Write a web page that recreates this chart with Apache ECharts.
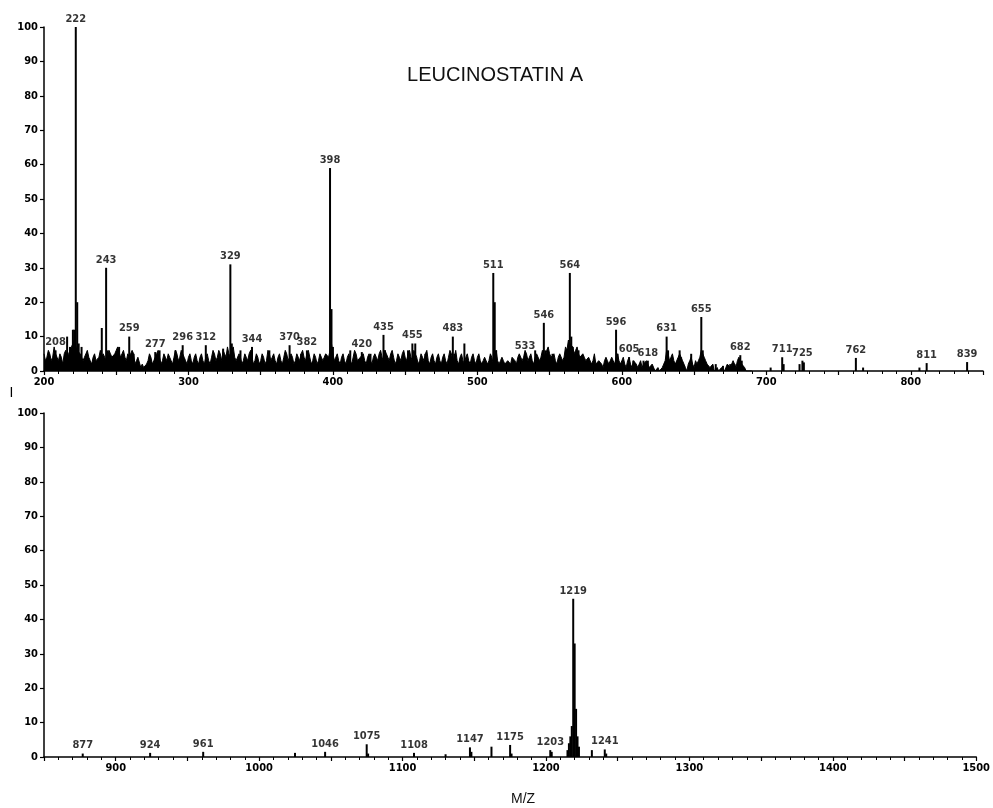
<!DOCTYPE html>
<html>
<head>
<meta charset="utf-8">
<script src="https://cdn.jsdelivr.net/npm/echarts@6/dist/echarts.min.js"></script>
<style>
html,body{margin:0;padding:0;background:#fff;}
#c{width:993px;height:808px;}
</style>
</head>
<body>
<div id="c"></div>
<script>
// ---------- DATA ----------
// Top panel background ("grass") intensities at even m/z 200..690
const noiseEvenStart = 200;
const noiseEven = [
 5,4,5,4,5,3,4,5,4,6,8,7,6,5,4,
 6,3,4,3,4,4,5,4,5,4,6,7,5,4,5,
 4,5,3,4,2,1,3,4,3,5,4,3,4,5,3,
 4,5,4,5,3,4,3,4,3,4,3,4,3,4,5,
 4,5,6,4,5,6,4,3,4,3,4,5,4,3,4,
 3,4,3,5,4,3,4,3,4,5,4,4,3,4,5,
 4,5,4,3,4,3,4,4,5,6,5,4,3,4,3,
 4,3,4,5,3,4,3,4,3,4,4,5,4,6,4,
 5,4,3,4,5,4,5,4,6,4,3,4,5,3,4,
 3,4,3,4,3,4,5,4,3,4,3,4,3,4,3,
 4,3,3,4,3,4,5,3,3,3,2,3,4,3,4,
 5,4,5,4,3,4,5,4,5,6,5,4,3,4,5,
 4,6,8,7,6,5,4,4,3,4,3,2,3,2,3,
 3,2,3,4,3,3,2,3,2,3,2,2,1,2,2,
 1,2,0,0,1,3,5,4,3,2,5,3,1,2,4,
 1,2,4,5,3,2,1,0,1,0,1,1,2,1,2,
 3,3,2,0,0,0
];
// Top panel background intensities at odd m/z 201..689
const noiseOddStart = 201;
const noiseOdd = [
 3,6,3,7,4,5,2,6,5,7,9,6,5,3,5,
 4,2,5,3,6,5,3,6,4,5,7,4,6,3,4,
 6,2,4,1,1,2,5,2,4,6,2,5,3,4,2,
 6,3,6,4,2,5,2,5,2,5,2,5,2,6,3,
 6,3,5,7,4,7,3,5,2,5,3,6,2,5,2,
 5,2,6,3,5,2,5,2,6,3,5,2,5,3,6,
 3,6,2,5,2,5,3,5,4,8,3,5,2,5,2,
 5,2,6,3,4,5,2,5,2,5,3,6,3,5,3,
 6,2,5,3,6,3,6,3,5,2,5,3,6,2,5,
 2,5,2,5,2,6,3,6,2,5,2,5,2,5,2,
 5,2,4,2,5,2,6,2,4,2,3,2,4,2,5,
 3,6,3,5,2,5,3,6,4,7,4,5,2,5,3,
 7,9,8,5,7,4,5,3,4,2,5,2,3,1,4,
 2,4,2,5,2,4,1,4,1,3,1,3,2,3,1,
 2,0,1,0,2,6,3,5,2,4,4,2,0,3,2,
 3,3,6,4,2,1,2,0,0,1,0,2,1,3,1,
 4,2,1,0,0
];
// Top panel discrete peaks
const peakTopMz = [208,216,218,220,221,222,223,224,226,240,243,244,252,259,262,277,280,291,296,312,324,329,330,336,344,356,370,378,382,398,399,400,412,420,426,435,436,452,455,457,464,483,484,491,511,512,513,533,540,546,547,552,564,565,566,570,596,597,605,608,615,618,631,632,640,641,648,655,656,665,670,675,678,682,683,703,711,712,723,725,726,762,767,806,811,839];
const peakTopInt = [6,10,7,12,12,100,20,8,7,12.5,30,6,7,10,5,5.5,6,6,7.5,7.5,6.5,31,8,6,7,6,7.5,5,6,59,18,7,6,5.5,5,10.5,6,6,8,8,5,10,5,8,28.5,20,6,5,6,14,6,5,28.5,10,7,6,12,5,4,3,3,3,10,6,6,4,5,15.7,6,2,1.5,2,2,4.6,3,1,4,2,2,3,2.5,3.8,1,1,2.3,2.6];
const labelTopMz = [208,222,243,259,277,296,312,329,344,370,382,398,420,435,455,483,511,533,546,564,596,605,618,631,655,682,711,725,762,811,839];

// Bottom panel discrete peaks
const peakBotMz = [877,924,961,1025,1046,1075,1076,1108,1130,1147,1148,1162,1175,1176,1203,1204,1215,1216,1217,1218,1219,1220,1221,1222,1223,1232,1241,1242];
const peakBotInt = [1,1.2,1.5,1.2,1.5,3.7,1,1.2,0.8,2.8,1.5,3,3.5,1,2,1.5,2,4,6,9,46,33,14,6,3,2,2.2,1];
const labelBotMz = [877,924,961,1046,1075,1108,1147,1175,1203,1219,1241];

const yTicks = [0,10,20,30,40,50,60,70,80,90,100];
const titleText = 'LEUCINOSTATIN A';
const xName = 'M/Z';

// ---------- BUILD ----------
const FONT = "'Liberation Sans Narrow','DejaVu Sans Condensed',sans-serif";
const noiseData = noiseEven.map((v,i)=>[noiseEvenStart + i*2, v])
  .concat(noiseOdd.map((v,i)=>[noiseOddStart + i*2, v]))
  .sort((a,b)=>a[0]-b[0]);
const zip = (a,b)=>a.map((m,i)=>[m,b[i]]);
const topPeaks = zip(peakTopMz, peakTopInt);
const botPeaks = zip(peakBotMz, peakBotInt);
function labelData(list, mzs, ints){
  return list.map(m=>{
    let h = 0;
    mzs.forEach((x,i)=>{ if (Math.abs(x-m)<=2 && ints[i]>h) h = ints[i]; });
    return {value:[m,h], name:String(m)};
  });
}
const topLabels = labelData(labelTopMz, peakTopMz, peakTopInt);
const botLabels = labelData(labelBotMz, peakBotMz, peakBotInt);

function xAxis(idx, min, max){
  return {
    type:'value', gridIndex:idx, min:min, max:max, interval:50,
    axisLine:{show:true, onZero:false, lineStyle:{color:'#000', width:1.5}},
    axisTick:{show:true, length:4, lineStyle:{color:'#000', width:1.2}},
    minorTick:{show:true, splitNumber:5, length:3, lineStyle:{color:'#000', width:1}},
    splitLine:{show:false},
    axisLabel:{show:true, color:'#000', fontFamily:FONT, fontWeight:'bold', fontSize:11, margin:6,
      showMaxLabel:(max%100===0),
      formatter:v=> (v%100===0 ? String(v) : '')}
  };
}
function yAxis(idx){
  return {
    type:'value', gridIndex:idx, min:0, max:100, interval:10,
    axisLine:{show:true, lineStyle:{color:'#000', width:1.5}},
    axisTick:{show:true, length:4, lineStyle:{color:'#000', width:1.2}},
    splitLine:{show:false},
    axisLabel:{show:true, color:'#000', fontFamily:FONT, fontWeight:'bold', fontSize:11, margin:6,
      formatter:v=> (yTicks.indexOf(v)>=0 ? String(v) : '')}
  };
}
const labelStyle = {show:true, position:'top', distance:2, formatter:p=>p.name,
  color:'#000', fontFamily:FONT, fontWeight:'bold', fontSize:11};

const option = {
  animation:false,
  backgroundColor:'#fff',
  grid:[
    {left:44, top:27, width:939, height:344},
    {left:44, top:413, width:939, height:344}
  ],
  xAxis:[xAxis(0,200,850), xAxis(1,850,1500)],
  yAxis:[yAxis(0), yAxis(1)],
  title:{text:titleText, left:490, top:60, textAlign:'center',
    textStyle:{color:'#111', fontFamily:"'Liberation Sans',Arial,sans-serif", fontWeight:'normal', fontSize:20}},
  graphic:[
    {type:'text', left:511, top:792, style:{text:xName, fill:'#111', font:"14px 'Liberation Sans',Arial,sans-serif"}},
    {type:'text', left:10, top:387, style:{text:'|', fill:'#000', font:"bold 10px 'Liberation Sans',sans-serif"}}
  ],
  series:[
    {type:'line', xAxisIndex:0, yAxisIndex:0, data:noiseData, symbol:'none',
      lineStyle:{color:'#000', width:1}, areaStyle:{color:'#000', opacity:1}, silent:true},
    {type:'bar', xAxisIndex:0, yAxisIndex:0, data:topPeaks, barWidth:2, itemStyle:{color:'#000'}, silent:true},
    {type:'scatter', xAxisIndex:0, yAxisIndex:0, data:topLabels, symbolSize:1,
      itemStyle:{color:'rgba(0,0,0,0)'}, label:labelStyle, silent:true},
    {type:'bar', xAxisIndex:1, yAxisIndex:1, data:botPeaks, barWidth:2, itemStyle:{color:'#000'}, silent:true},
    {type:'scatter', xAxisIndex:1, yAxisIndex:1, data:botLabels, symbolSize:1,
      itemStyle:{color:'rgba(0,0,0,0)'}, label:labelStyle, silent:true}
  ]
};
const chart = echarts.init(document.getElementById('c'), null, {renderer:'canvas'});
chart.setOption(option);
</script>
</body>
</html>
